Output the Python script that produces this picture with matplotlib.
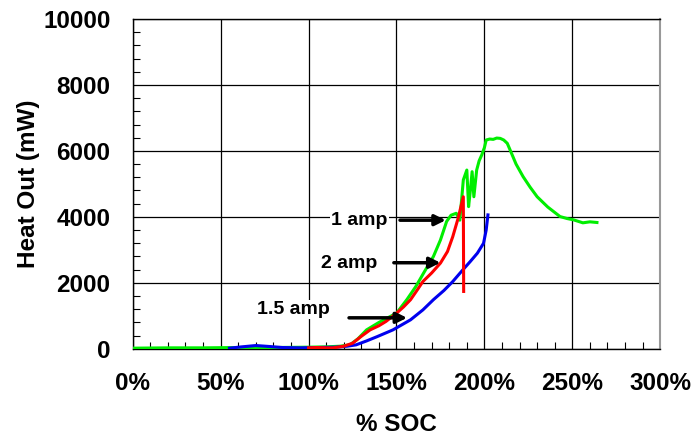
import matplotlib
matplotlib.use("Agg")
import matplotlib.pyplot as plt
from matplotlib.ticker import MultipleLocator, FuncFormatter

# % SOC vs heat output (mW)
soc_1amp = [0, 20, 40, 60, 80, 100, 110, 118, 123.5, 128, 133, 140, 150, 156, 161,
            166, 171, 175, 178.5, 181, 184, 186, 187, 188, 190, 191, 192, 193, 194,
            195.6, 197, 198.5, 200, 201, 203, 205, 207, 209, 211, 213, 214.6, 218,
            222, 226, 230, 236, 243, 247, 250.7, 256, 260, 264]
heat_1amp = [20, 30, 30, 40, 40, 50, 60, 80, 120, 300, 575, 800, 1080, 1500, 1890,
             2350, 2800, 3300, 3860, 4050, 4110, 3900, 4500, 5120, 5420, 4310, 4800,
             5370, 4610, 5420, 5700, 5880, 6100, 6330, 6360, 6350, 6390, 6380, 6330,
             6230, 6030, 5600, 5220, 4900, 4610, 4300, 4010, 3950, 3910, 3820, 3850,
             3830]

soc_2amp = [100, 105, 110, 114, 120, 125, 130, 135, 140, 144, 150, 154, 158, 162,
            165, 170, 175, 179, 182, 185, 188, 188.2]
heat_2amp = [30, 40, 30, 30, 80, 170, 380, 575, 700, 830, 1080, 1270, 1490, 1800,
             2040, 2300, 2600, 2950, 3400, 3950, 4610, 1740]

soc_15amp = [55, 62, 70, 78, 85, 95, 105, 115, 122, 127, 133, 139, 148, 158, 165,
             171, 177, 182, 187, 192, 196, 199.5, 201, 202]
heat_15amp = [20, 60, 100, 70, 40, 30, 40, 50, 80, 120, 240, 370, 575, 880, 1180,
              1490, 1770, 2040, 2350, 2650, 2900, 3200, 3600, 4060]

label_text = ["1 amp", "2 amp", "1.5 amp"]
label_xy = [(145, 3900), (139, 2580), (112, 1190)]
arrow_tail = [(152, 3900), (148.5, 2610), (123, 940)]
arrow_head = [(178, 3900), (175, 2610), (156, 940)]

plt.rcParams["font.family"] = ["Liberation Sans", "DejaVu Sans"]
plt.rcParams["font.weight"] = "bold"

fig = plt.figure(figsize=(6.95, 4.41), dpi=100)
ax = fig.add_axes([0.191, 0.209, 0.759, 0.748])

ax.plot(soc_1amp, heat_1amp, color="#00ee00", lw=2.2, zorder=3)
ax.plot(soc_15amp, heat_15amp, color="#0000ee", lw=2.2, zorder=3)
ax.plot(soc_2amp, heat_2amp, color="#ff0000", lw=2.2, zorder=4)

ax.set_xlim(0, 300)
ax.set_ylim(0, 10000)
ax.xaxis.set_major_locator(MultipleLocator(50))
ax.xaxis.set_minor_locator(MultipleLocator(10))
ax.yaxis.set_major_locator(MultipleLocator(2000))
ax.yaxis.set_minor_locator(MultipleLocator(400))
ax.xaxis.set_major_formatter(FuncFormatter(lambda v, p: f"{v:.0f}%"))
ax.tick_params(which="both", direction="in", labelsize=17.5)
ax.tick_params(which="major", length=0)
ax.tick_params(which="minor", length=5, width=0.8)
ax.tick_params(axis="x", pad=17)
ax.tick_params(axis="y", pad=16)
ax.grid(which="major", color="black", lw=0.9)
ax.set_axisbelow(True)
for s in ["left", "top", "bottom"]:
    ax.spines[s].set_linewidth(1.0)
ax.spines["right"].set_color("#999999")
ax.spines["right"].set_linewidth(1.5)

ax.set_xlabel("% SOC", fontsize=17.5, fontweight="bold", labelpad=13)
ax.set_ylabel("Heat Out (mW)", fontsize=17.5, fontweight="bold", labelpad=2)

for txt, xy, t, h in zip(label_text, label_xy, arrow_tail, arrow_head):
    ax.text(xy[0], xy[1], txt, fontsize=14, fontweight="bold", ha="right",
            va="center", zorder=5,
            bbox=dict(facecolor="white", edgecolor="none", pad=1))
    ax.annotate("", xy=h, xytext=t, zorder=6,
                arrowprops=dict(arrowstyle="-|>", color="black", lw=2.5,
                                mutation_scale=16, shrinkA=0, shrinkB=0))

fig.savefig("out.png", dpi=100)
